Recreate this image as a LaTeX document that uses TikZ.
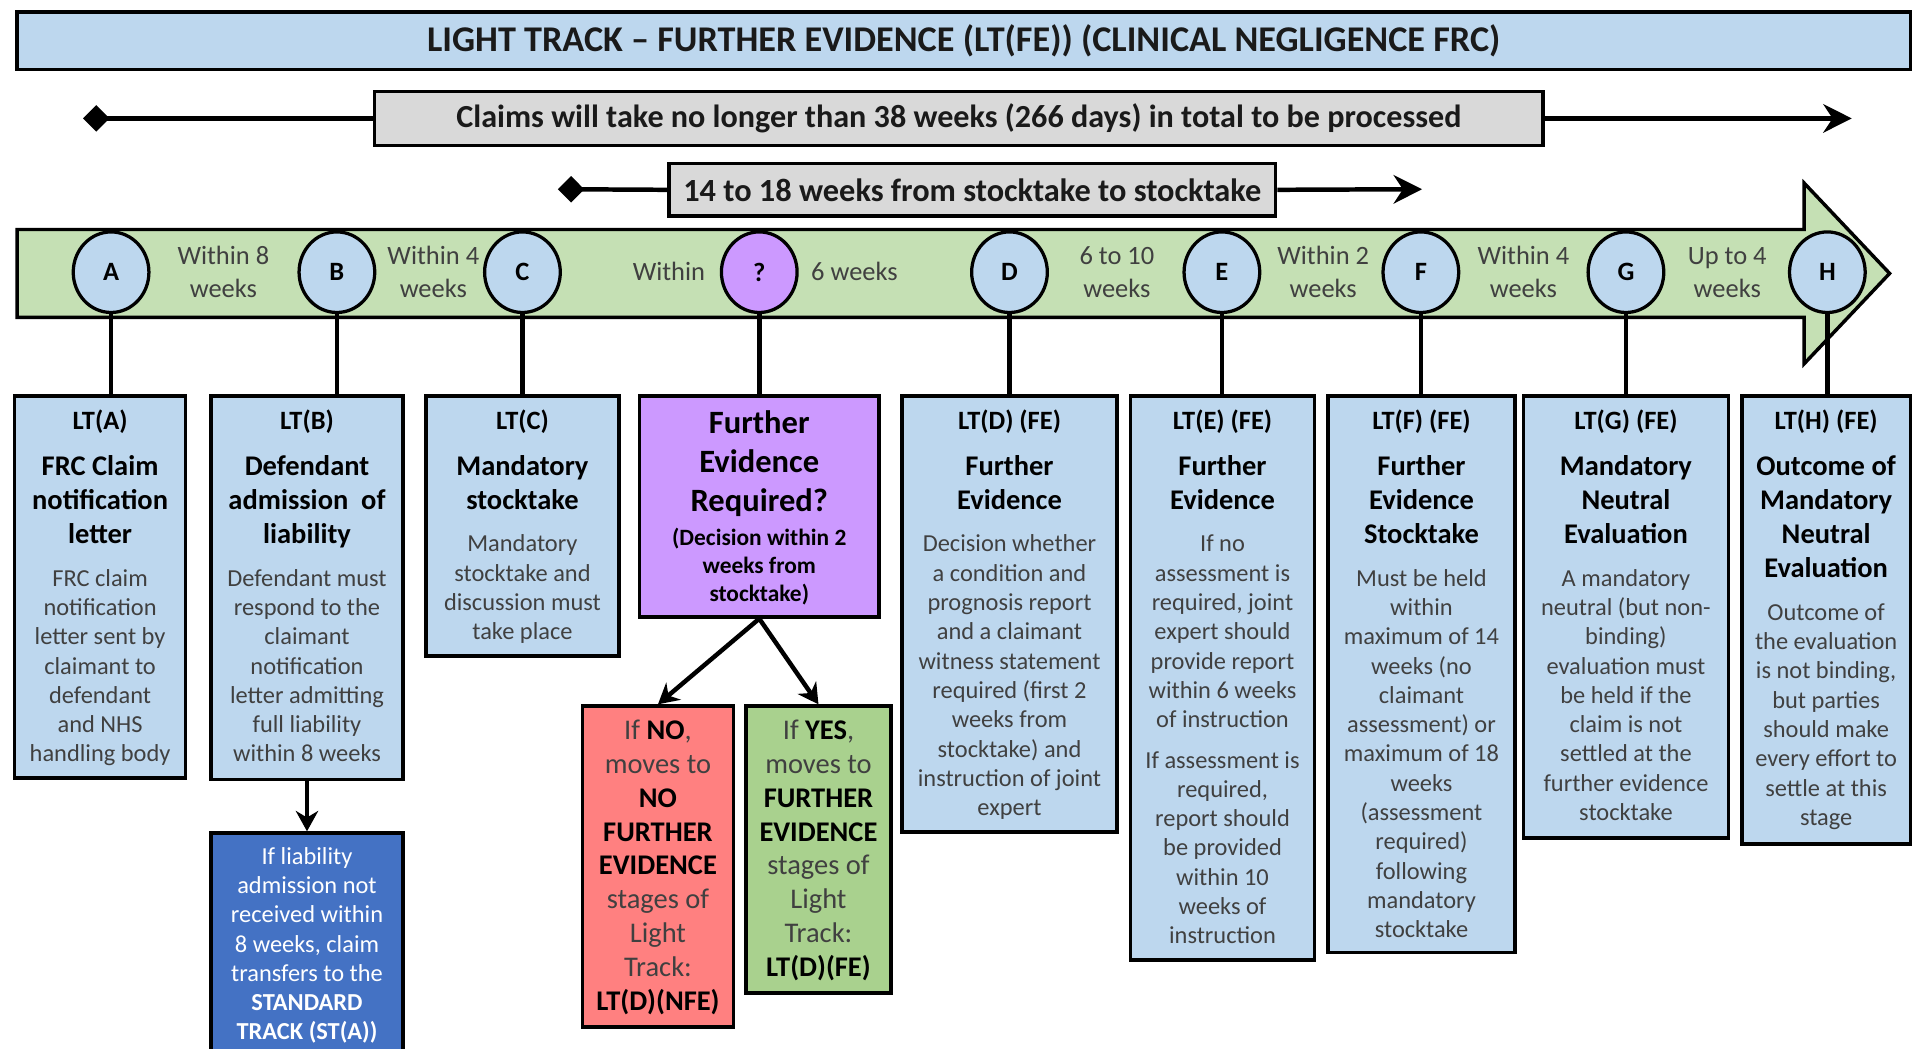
\documentclass[tikz,border=0pt]{standalone}
\usepackage{fontspec}
\setmainfont{Carlito}
\usetikzlibrary{shapes.geometric,arrows.meta}
\definecolor{lblue}{HTML}{BDD7EE}
\definecolor{lgray}{HTML}{D9D9D9}
\definecolor{lgreen}{HTML}{C5E0B4}
\definecolor{lpurple}{HTML}{CC99FF}
\definecolor{lred}{HTML}{FF8080}
\definecolor{mgreen}{HTML}{A9D18E}
\definecolor{dblue}{HTML}{4472C4}
\definecolor{bodygray}{HTML}{404040}
\definecolor{titlec}{HTML}{1A1A1A}
\newdimen\unitp \unitp=0.6pt
\newcommand\hdr{\fontsize{13}{15.6}\selectfont\bfseries\color{black}}
\newcommand\ttl{\fontsize{14}{16.8}\selectfont\bfseries\color{black}}
\newcommand\bdy{\fontsize{12}{14.4}\selectfont\mdseries\color{bodygray}}
\newcommand\pbox[3]{\parbox[t][\dimexpr #2\unitp-14pt\relax][t]{\dimexpr #1\unitp-4pt\relax}{\centering #3\par}}
\newcommand\stagetext[5]{\pbox{#1}{#2}{\hdr #3\par\vspace{5.4pt}\ttl #4\par\vspace{6.6pt}\bdy #5}}
\tikzset{
 stage/.style={draw=black, line width=1.7pt, fill=lblue, inner xsep=2pt, inner ysep=7pt, anchor=north, text=black},
 circ/.style={ellipse, draw=black, line width=1.6pt, fill=lblue, minimum width=37.2pt, minimum height=39.6pt, inner sep=0pt, font=\fontsize{13}{15}\selectfont\bfseries},
 conn/.style={line width=2.2pt},
 arr/.style={line width=2.2pt, -{Stealth[length=10pt,width=11pt]}},
 blab/.style={align=center, text=bodygray, font=\fontsize{13}{16.2}\selectfont},
 bar/.style={draw=black, line width=1.7pt, inner sep=0pt},
 tlL/.style={line width=2.2pt, {Diamond[length=13pt,width=13pt]}-},
 tlR/.style={line width=2.2pt, -{Stealth[length=14pt,width=14pt]}},
}
\begin{document}
\begin{tikzpicture}[x=0.6pt,y=-0.6pt]
\useasboundingbox (0,0) rectangle (1568,859);
% title
\node[bar, fill=lblue, minimum width=930.6pt, minimum height=28.2pt, font=\fontsize{17.8}{20}\selectfont\bfseries, text=titlec] (title) at (789.5,33.5) {LIGHT TRACK – FURTHER EVIDENCE (LT(FE)) (CLINICAL NEGLIGENCE FRC)};
% overall timeline
\coordinate (c1L) at (68,97);
\coordinate (c1R) at (1517,97);
\coordinate (c2L) at (457,155);
\coordinate (c2R) at (1165,155);
\node[bar, fill=lgray, minimum width=574.2pt, minimum height=26.4pt, font=\fontsize{15.8}{18}\selectfont\bfseries, text=titlec] (claims) at (785.5,97) {Claims will take no longer than 38 weeks (266 days) in total to be processed};
\node[bar, fill=lgray, minimum width=298.2pt, minimum height=25.8pt, font=\fontsize{15.9}{18}\selectfont\bfseries, text=titlec] (st) at (796.5,155.5) {14 to 18 weeks from stocktake to stocktake};
\draw[tlL] (c1L) -- (claims.west);
\draw[tlR] (claims.east) -- (c1R);
\draw[tlL] (c2L) -- (st.west);
\draw[tlR] (st.east) -- (c2R);
% green band
\draw[fill=lgreen, line width=1.7pt, line join=miter] (14,188) -- (1478,188) -- (1478,150) -- (1548,224) -- (1478,298) -- (1478,260) -- (14,260) -- cycle;
% band labels
\node[blab] (l1) at (183,223) {Within 8\\weeks};
\node[blab] (l2) at (355,223) {Within 4\\weeks};
\node[blab] (l3) at (548,222) {Within};
\node[blab] (l4) at (700,222) {6 weeks};
\node[blab] (l5) at (915,223) {6 to 10\\weeks};
\node[blab] (l6) at (1084,223) {Within 2\\weeks};
\node[blab] (l7) at (1248,223) {Within 4\\weeks};
\node[blab] (l8) at (1415,223) {Up to 4\\weeks};
% stage boxes
\node[stage] (LTA) at (82,323) {\stagetext{140}{313}{LT(A)}{FRC Claim\\notification\\letter}{FRC claim\\notification\\letter sent by\\claimant to\\defendant\\and NHS\\handling body}};
\node[stage] (LTB) at (251.5,323) {\stagetext{157}{314}{LT(B)}{Defendant\\admission\ \ of\\liability}{Defendant must\\respond to the\\claimant\\notification\\letter admitting\\full liability\\within 8 weeks}};
\node[stage] (LTC) at (428,323) {\stagetext{158}{213}{LT(C)}{Mandatory\\stocktake}{Mandatory\\stocktake and\\discussion must\\take place}};
\node[stage, fill=lpurple] (P) at (622,323) {\pbox{196}{181}{\fontsize{16}{19.2}\selectfont\bfseries Further\\Evidence\\Required?\par\vspace{3pt}\fontsize{11.5}{13.8}\selectfont (Decision within 2\\weeks from\\stocktake)}};
\node[stage] (LTD) at (827,323) {\stagetext{176}{357}{LT(D) (FE)}{Further\\Evidence}{Decision whether\\a condition and\\prognosis report\\and a claimant\\witness statement\\required (first 2\\weeks from\\stocktake) and\\instruction of joint\\expert}};
\node[stage] (LTE) at (1001.5,323) {\stagetext{151}{462}{LT(E) (FE)}{Further\\Evidence}{If no\\assessment is\\required, joint\\expert should\\provide report\\within 6 weeks\\of instruction\par\vspace{5.4pt}If assessment is\\required,\\report should\\be provided\\within 10\\weeks of\\instruction}};
\node[stage] (LTF) at (1164.5,323) {\stagetext{153}{456}{LT(F) (FE)}{Further\\Evidence\\Stocktake}{Must be held\\within\\maximum of 14\\weeks (no\\claimant\\assessment) or\\maximum of 18\\weeks\\(assessment\\required)\\following\\mandatory\\stocktake}};
\node[stage] (LTG) at (1332,323) {\stagetext{168}{362}{LT(G) (FE)}{Mandatory\\Neutral\\Evaluation}{A mandatory\\neutral (but non-\\binding)\\evaluation must\\be held if the\\claim is not\\settled at the\\further evidence\\stocktake}};
\node[stage] (LTH) at (1496,323) {\stagetext{138}{367}{LT(H) (FE)}{Outcome of\\Mandatory\\Neutral\\Evaluation}{Outcome of\\the evaluation\\is not binding,\\but parties\\should make\\every effort to\\settle at this\\stage}};
% decision outcomes
\node[stage, fill=lred] (NO) at (539,577) {\pbox{124}{263}{\fontsize{14}{16.6}\selectfont\color{bodygray}If {\bfseries\color{black}NO},\\moves to\\{\bfseries\color{black}NO\\FURTHER\\EVIDENCE}\\stages of\\Light\\Track:\\{\bfseries\color{black}LT(D)(NFE)}}};
\node[stage, fill=mgreen] (YES) at (670.5,577) {\pbox{119}{235}{\fontsize{14}{16.6}\selectfont\color{bodygray}If {\bfseries\color{black}YES},\\moves to\\{\bfseries\color{black}FURTHER\\EVIDENCE}\\stages of\\Light\\Track:\\{\bfseries\color{black}LT(D)(FE)}}};
\node[stage, fill=dblue] (ST) at (251.5,681) {\pbox{157}{185}{\fontsize{12}{14.4}\selectfont\color{white}If liability\\admission not\\received within\\8 weeks, claim\\transfers to the\\\textbf{STANDARD}\\\textbf{TRACK (ST(A))}}};
% circles
\node[circ] (A) at (91,223) {A};
\node[circ] (B) at (276,223) {B};
\node[circ] (C) at (428,223) {C};
\node[circ, fill=lpurple] (Q) at (622,223) {?};
\node[circ] (D) at (827,223) {D};
\node[circ] (E) at (1001,223) {E};
\node[circ] (F) at (1164,223) {F};
\node[circ] (G) at (1332,223) {G};
\node[circ] (H) at (1497,223) {H};
% connectors
\draw[conn] (A) -- (A |- LTA.north);
\draw[conn] (B) -- (B |- LTB.north);
\draw[conn] (C) -- (C |- LTC.north);
\draw[conn] (Q) -- (Q |- P.north);
\draw[conn] (D) -- (D |- LTD.north);
\draw[conn] (E) -- (E |- LTE.north);
\draw[conn] (F) -- (F |- LTF.north);
\draw[conn] (G) -- (G |- LTG.north);
\draw[conn] (H) -- (H |- LTH.north);
\draw[arr] (LTB.south) -- (ST.north);
\draw[arr] (P.south) -- (NO.north);
\draw[arr] (P.south) -- (YES.north);
\end{tikzpicture}
\end{document}
